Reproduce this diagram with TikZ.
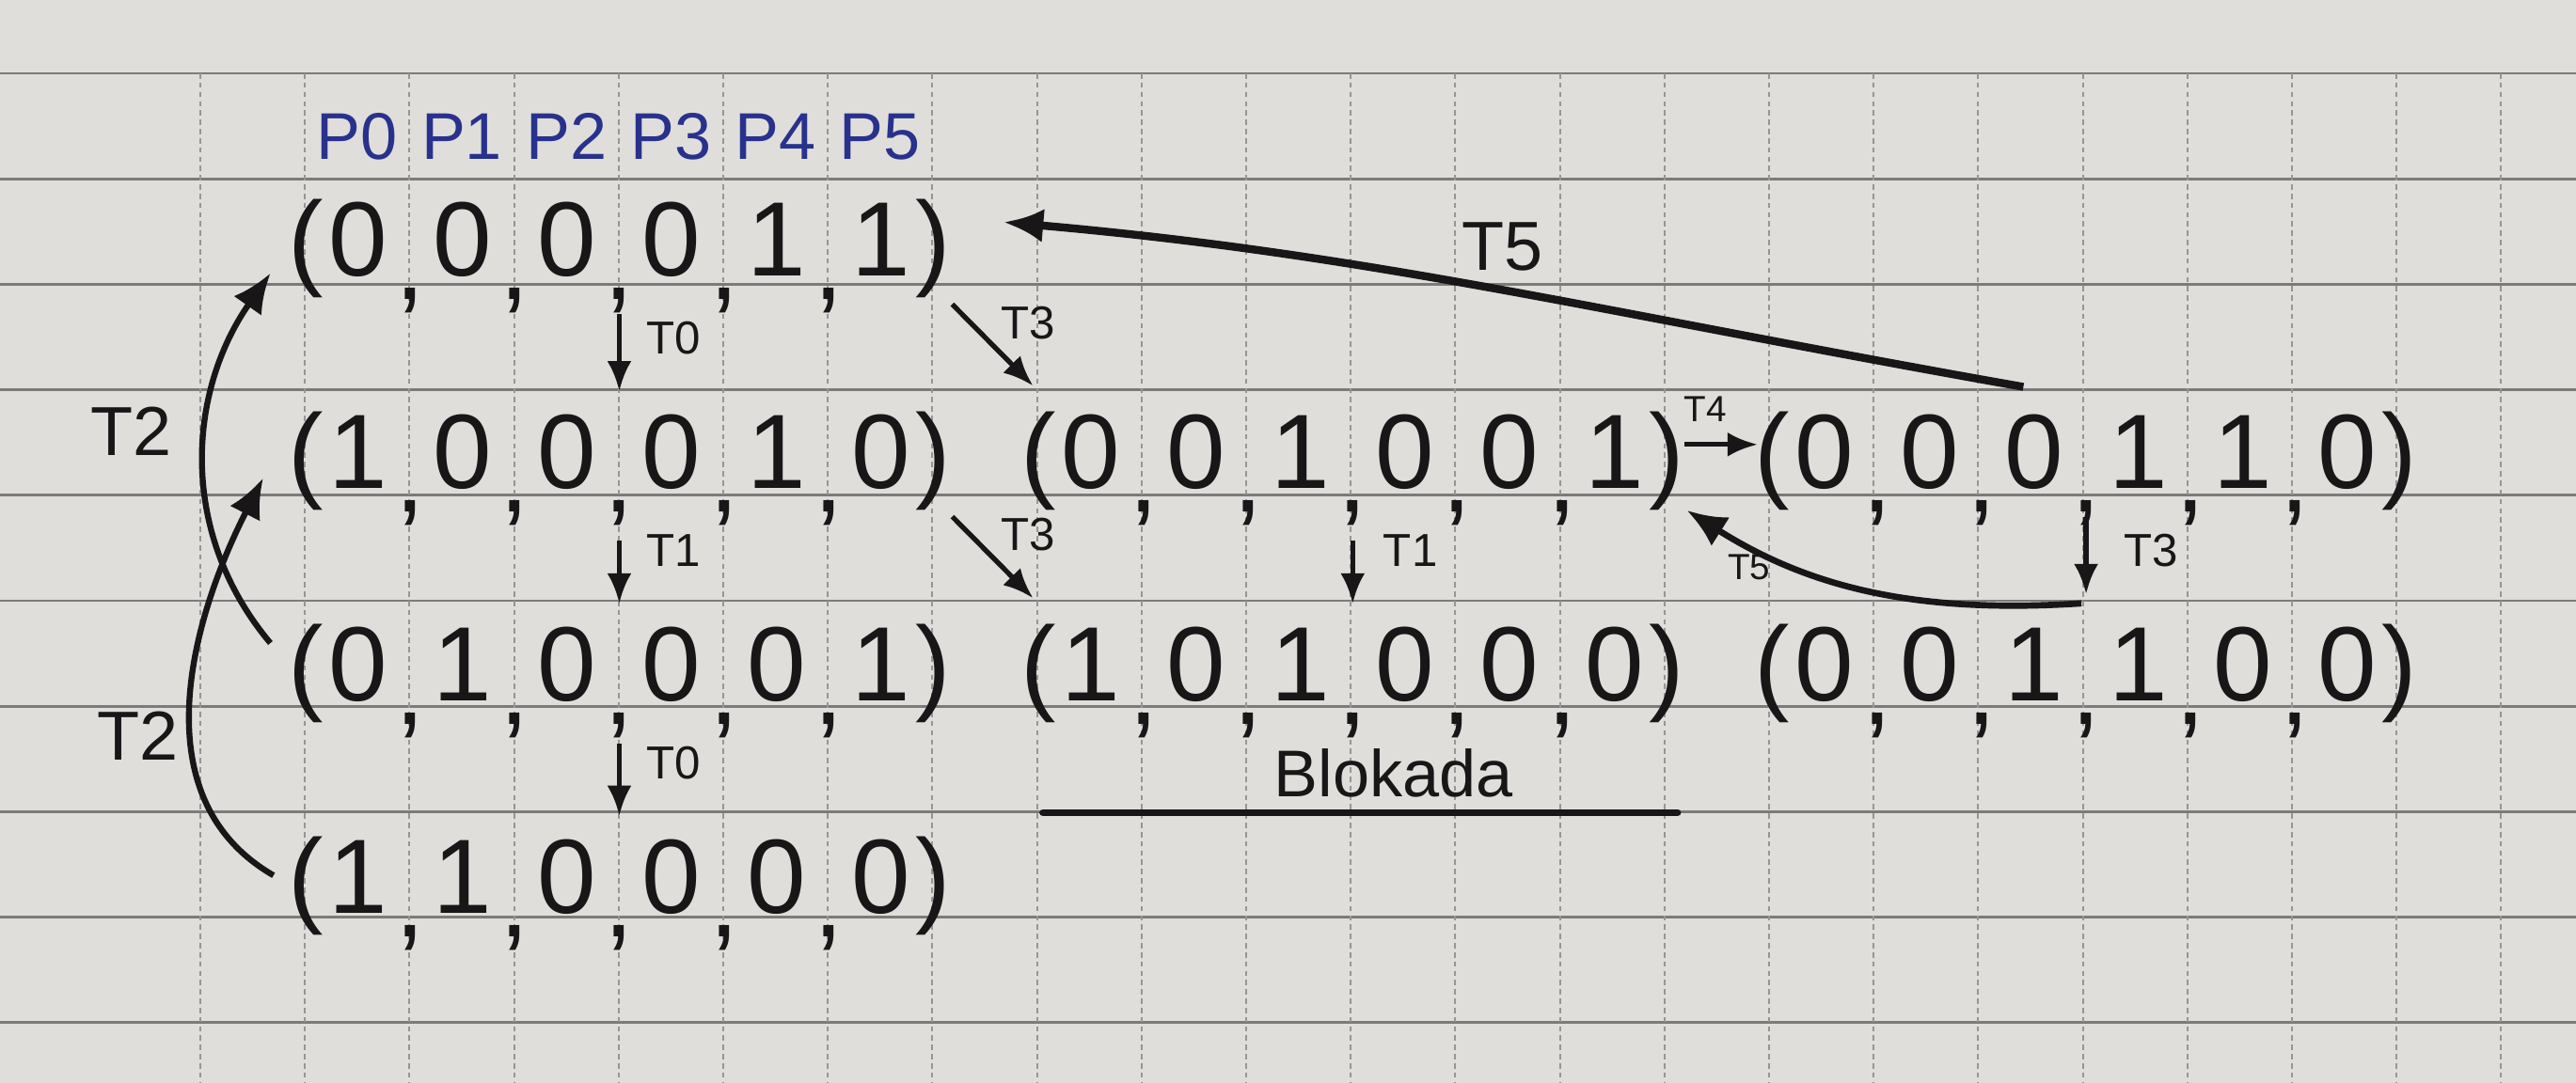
\documentclass[tikz,border=0pt]{standalone}
\usepackage{fontspec}
\setmainfont{Liberation Sans}
\usetikzlibrary{arrows.meta,positioning,calc}
\definecolor{paper}{RGB}{224,222,219}
\definecolor{gridgray}{RGB}{125,123,122}
\definecolor{ink}{RGB}{24,22,22}
\definecolor{penblue}{RGB}{40,50,140}
\newcommand{\cellw}{1.112cm}
\newcommand{\dg}[1]{\makebox[\cellw]{#1}}
\newcommand{\sepc}{\makebox[0pt]{\raisebox{-0.22em}{,}}}
\newcommand{\marking}[6]{\makebox[0pt]{(}\dg{#1}\sepc\dg{#2}\sepc\dg{#3}\sepc\dg{#4}\sepc\dg{#5}\sepc\dg{#6}\makebox[0pt]{)}}
\begin{document}
\begin{tikzpicture}[
  x=1.112cm, y=1.122cm,
  node distance=1.122cm and 1.112cm,
  state/.style={rectangle, inner sep=0pt, anchor=north west, minimum width=6.672cm,
    minimum height=1.122cm, text height=1.03cm, text depth=0.092cm, text=ink,
    font=\fontsize{32}{36}\selectfont},
  place/.style={inner sep=0pt, text=penblue, font=\fontsize{20}{22}\selectfont},
  lbl/.style={inner sep=0pt, text=ink, font=\fontsize{14}{16}\selectfont},
  lblsmall/.style={lbl, font=\fontsize{11}{12}\selectfont},
  lblbig/.style={lbl, font=\fontsize{21}{24}\selectfont},
  arr/.style={-{Latex[length=3.2mm, width=2.6mm]}, line width=1.5pt, draw=ink},
  bigarr/.style={arr, line width=2.4pt, -{Latex[length=4.2mm, width=3.6mm]}},
  bar/.style={draw=ink, line width=2.2pt, line cap=round},
  hline/.style={draw=gridgray, line width=0.8pt},
  vline/.style={draw=gridgray!80, line width=0.6pt, dash pattern=on 1.6pt off 1.2pt}
]
% paper and squares
\path[use as bounding box, fill=paper] (-1.9155,0.6952) rectangle (22.716,-9.5722);
\foreach \j in {0,...,9}
  \draw[hline] (-1.9155,-\j) -- (22.716,-\j);
\foreach \i in {0,...,22}
  \draw[vline] (\i,0) -- (\i,-9.5722);

% place names
\foreach \k in {0,...,5}
  \node[place] (p\k) at (\k+1.5,-0.6) {P\k};

% markings
\node[state] (s0) at (1,-1) {\marking{0}{0}{0}{0}{1}{1}};
\node[state, below=of s0] (s1) {\marking{1}{0}{0}{0}{1}{0}};
\node[state, below=of s1] (s2) {\marking{0}{1}{0}{0}{0}{1}};
\node[state, below=of s2] (s3) {\marking{1}{1}{0}{0}{0}{0}};
\node[state, right=of s1] (s4) {\marking{0}{0}{1}{0}{0}{1}};
\node[state, below=of s4] (s5) {\marking{1}{0}{1}{0}{0}{0}};
\node[state, right=of s4] (s6) {\marking{0}{0}{0}{1}{1}{0}};
\node[state, below=of s6] (s7) {\marking{0}{0}{1}{1}{0}{0}};

% firings
\draw[arr, shorten <=0.3cm] (s0.south) -- (s1.north) node[lbl, midway, right=0.26cm] (t0a) {T0};
\draw[arr, shorten <=0.45cm] (s1.south) -- (s2.north) node[lbl, midway, right=0.26cm] (t1a) {T1};
\draw[arr, shorten <=0.36cm] (s2.south) -- (s3.north) node[lbl, midway, right=0.26cm] (t0b) {T0};
\draw[arr, shorten <=0.28cm, shorten >=0.08cm] (s0.south east) -- (s4.north west)
  node[lbl, pos=0.35, right=0.3cm] (t3a) {T3};
\draw[arr, shorten <=0.28cm, shorten >=0.08cm] (s1.south east) -- (s5.north west)
  node[lbl, pos=0.35, right=0.3cm] (t3b) {T3};
\draw[arr, shorten <=0.45cm] (s4.south) -- (s5.north) node[lbl, midway, right=0.3cm] (t1b) {T1};
\draw[arr, shorten <=0.18cm, shorten >=0.15cm] (s4.east) -- (s6.west)
  node[lblsmall, midway, above=0.22cm, xshift=-0.15cm] (t4) {T4};
\draw[arr, shorten <=0.2cm, shorten >=0.1cm] (s6.south) -- (s7.north)
  node[lbl, midway, right=0.38cm] (t3c) {T3};
\draw[bigarr, line width=1.9pt, shorten >=0.25cm] ([xshift=-0.05cm]s7.north) to[bend left=18] (s4.south east);
\node[lblsmall] (t5b) at (14.81,-4.68) {T5};
\draw[bigarr, shorten >=0.58cm] ($(s6.north)+(-0.6,0.04)$) to[out=170, in=-5] ($(s0.east)+(0.15,0.14)$);
\node[lblbig] (t5a) at (12.45,-1.64) {T5};
\draw[bigarr, line width=1.8pt] ($(s2.west)+(-0.33,0.13)$) to[out=130, in=-125] ($(s0.west)+(-0.33,-0.39)$);
\draw[bigarr, line width=1.8pt] ($(s3.west)+(-0.3,-0.06)$) to[out=150, in=-117] ($(s1.west)+(-0.4,-0.32)$);
\node[lblbig] (t2a) at (-0.66,-3.39) {T2};
\node[lblbig] (t2b) at (-0.6,-6.28) {T2};

% deadlock
\node[lblbig, font=\fontsize{20}{22}\selectfont] (blk) at ($(s5.south)+(0.39,-0.6)$) {Blokada};
\draw[bar] ([yshift=-1.09cm, xshift=0.05cm]s5.south west) -- ([yshift=-1.09cm, xshift=0.11cm]s5.south east);
\end{tikzpicture}
\end{document}
